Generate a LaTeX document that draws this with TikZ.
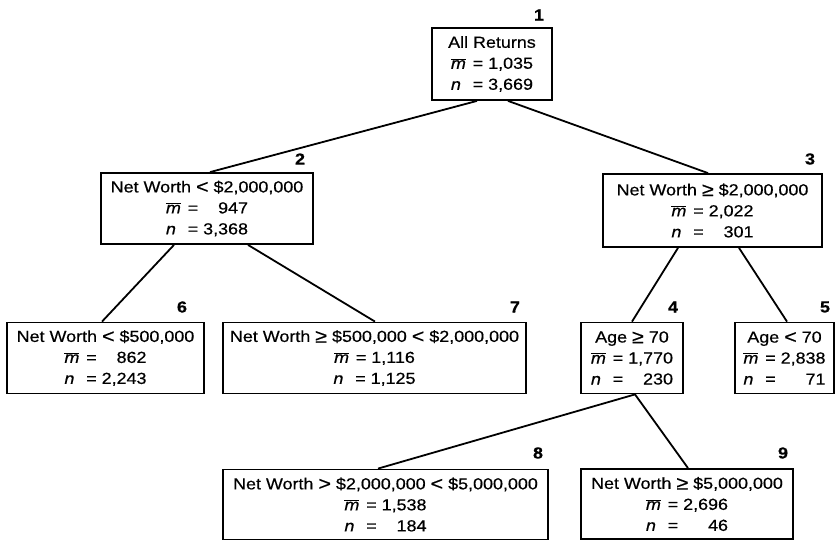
\documentclass[tikz,border=0pt]{standalone}
\usepackage{fontspec}
\usepackage{graphicx}
\setmainfont[FakeStretch=1.12,FakeBold=0.5]{Liberation Sans}
\newcommand{\mline}[1]{\makebox[1.05em][l]{$\overline{\mbox{\itshape m}}$} = #1}
\newcommand{\nline}[1]{\makebox[1.05em][l]{\itshape n} = #1}
\newcommand{\rel}[1]{\raisebox{-0.05em}{\scalebox{1.2}{#1}}}
\tikzset{
  treebox/.style={draw, line width=1.8pt, inner sep=0pt, align=center,
    font=\fontsize{16}{21}\selectfont},
  numlabel/.style={font=\fontsize{16}{16}\selectfont\bfseries, inner sep=0pt},
  link/.style={line width=1.8pt}
}
\begin{document}
\begin{tikzpicture}[x=1pt,y=-1pt]
\useasboundingbox (0,0) rectangle (836,541);
\node[treebox, minimum width=120pt, minimum height=72pt] (b1) at (492,64)
  {All Returns\\ \mline{1,035}\\ \nline{3,669}};
\node[treebox, minimum width=212pt, minimum height=71pt] (b2) at (207,208.5)
  {Net Worth \rel{<} \$2,000,000\\ \mline{\hphantom{0,}947}\\ \nline{3,368}};
\node[treebox, minimum width=219pt, minimum height=73pt] (b3) at (712.5,210.5)
  {Net Worth \rel{≥} \$2,000,000\\ \mline{2,022}\\ \nline{\hphantom{0,}301}};
\node[treebox, minimum width=197pt, minimum height=71pt] (b6) at (105.5,358)
  {Net Worth \rel{<} \$500,000\\ \mline{\hphantom{0,}862}\\ \nline{2,243}};
\node[treebox, minimum width=303pt, minimum height=71pt] (b7) at (374.5,358)
  {Net Worth \rel{≥} \$500,000 \rel{<} \$2,000,000\\ \mline{1,116}\\ \nline{1,125}};
\node[treebox, minimum width=102pt, minimum height=71pt] (b4) at (632,358)
  {Age \rel{≥} 70\\ \mline{1,770}\\ \nline{\hphantom{0,}230}};
\node[treebox, minimum width=99pt, minimum height=71pt] (b5) at (784.5,358)
  {Age \rel{<} 70\\ \mline{2,838}\\ \nline{\hphantom{0,0}71}};
\node[treebox, minimum width=325pt, minimum height=70pt] (b8) at (385.5,504.5)
  {Net Worth \rel{>} \$2,000,000 \rel{<} \$5,000,000\\ \mline{1,538}\\ \nline{\hphantom{0,}184}};
\node[treebox, minimum width=212pt, minimum height=70pt] (b9) at (687,504)
  {Net Worth \rel{≥} \$5,000,000\\ \mline{2,696}\\ \nline{\hphantom{0,0}46}};
\node[numlabel] (l1) at (539,15) {1};
\node[numlabel] (l2) at (300,159) {2};
\node[numlabel] (l3) at (810,159) {3};
\node[numlabel] (l6) at (182,307) {6};
\node[numlabel] (l7) at (515,307) {7};
\node[numlabel] (l4) at (673,307) {4};
\node[numlabel] (l5) at (825,307) {5};
\node[numlabel] (l8) at (538,453) {8};
\node[numlabel] (l9) at (783,453) {9};
\draw[link] ([xshift=-15pt]b1.south) -- ([xshift=3pt]b2.north);
\draw[link] ([xshift=16pt]b1.south) -- ([xshift=-4.5pt]b3.north);
\draw[link] ([xshift=-33pt]b2.south) -- ([xshift=-3.5pt]b6.north);
\draw[link] ([xshift=41pt]b2.south) -- ([xshift=0.5pt]b7.north);
\draw[link] ([xshift=-34.5pt]b3.south) -- (b4.north);
\draw[link] ([xshift=26.5pt]b3.south) -- ([xshift=2.5pt]b5.north);
\draw[link] ([xshift=3pt]b4.south) -- ([xshift=-7.5pt]b8.north);
\draw[link] ([xshift=3pt]b4.south) -- ([xshift=1pt]b9.north);
\end{tikzpicture}
\end{document}
